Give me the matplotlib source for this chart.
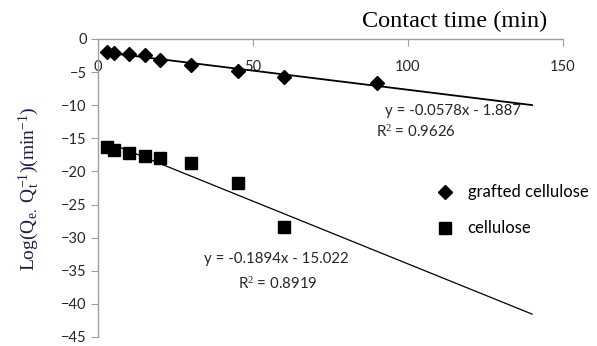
import numpy as np
import matplotlib
matplotlib.use('Agg')
import matplotlib.pyplot as plt

# Data
time_grafted = [3, 5, 10, 15, 20, 30, 45, 60, 90]
log_grafted = [-2.0, -2.1, -2.2, -2.4, -3.1, -3.9, -4.9, -5.7, -6.6]

time_cell = [3, 5, 10, 15, 20, 30, 45, 60]
log_cell = [-16.3, -16.8, -17.2, -17.6, -17.9, -18.7, -21.8, -28.4]

# trend line coefficients (from the chart labels)
slope_grafted, icpt_grafted, r2_grafted = -0.0578, -1.887, 0.9626
slope_cell, icpt_cell, r2_cell = -0.1894, -15.022, 0.8919
trend_end = 140

xticks = [0, 50, 100, 150]
yticks = [0, -5, -10, -15, -20, -25, -30, -35, -40, -45]

plt.rcParams['mathtext.fontset'] = 'custom'
plt.rcParams['mathtext.rm'] = 'Liberation Serif'
plt.rcParams['mathtext.it'] = 'Liberation Serif:italic'

sans = 'Lato'
axis_col = '#a0a0a0'
text_col = '#262626'

fig = plt.figure(figsize=(5.97, 3.46), dpi=100)
ax = fig.add_axes([98 / 597, 1 - 337 / 346, 465 / 597, 298 / 346])

# Points
ax.plot(time_grafted, log_grafted, linestyle='none', marker='D', markersize=6.8,
        color='black', label='grafted cellulose', zorder=3)
ax.plot(time_cell, log_cell, linestyle='none', marker='s', markersize=9.3,
        color='black', label='cellulose', zorder=3)

# Trend lines
xg = np.array([min(time_grafted), trend_end])
ax.plot(xg, slope_grafted * xg + icpt_grafted, color='black', lw=1.3)
xc = np.array([min(time_cell), trend_end])
ax.plot(xc, slope_cell * xc + icpt_cell, color='black', lw=0.9)

# Axes
ax.set_xlim(0, 150)
ax.set_ylim(-45, 0)
ax.set_xticks(xticks)
ax.set_yticks(yticks)
ax.spines['top'].set_visible(False)
ax.spines['right'].set_visible(False)
ax.spines['bottom'].set_position(('data', 0))
for s in ['bottom', 'left']:
    ax.spines[s].set_color(axis_col)
    ax.spines[s].set_linewidth(1)
ax.tick_params(axis='x', direction='out', length=5, color=axis_col, pad=10,
               labelsize=10.5, labelcolor=text_col)
ax.tick_params(axis='y', direction='out', length=5, color=axis_col, pad=3,
               labelsize=10.5, labelcolor=text_col)
for lbl in ax.get_xticklabels() + ax.get_yticklabels():
    lbl.set_fontfamily(sans)

# Equations
ax.text(114.5, -10.9, 'y = %.4fx - %.3f' % (slope_grafted, -icpt_grafted),
        ha='center', va='center', fontsize=10.8, family=sans, color=text_col)
ax.text(102.5, -14.1, 'R$^{2}$ = %.4f' % r2_grafted,
        ha='center', va='center', fontsize=10.8, family=sans, color=text_col)
ax.text(57.5, -33.2, 'y = %.4fx - %.3f' % (slope_cell, -icpt_cell),
        ha='center', va='center', fontsize=10.8, family=sans, color=text_col)
ax.text(58, -37.0, 'R$^{2}$ = %.4f' % r2_cell,
        ha='center', va='center', fontsize=10.8, family=sans, color=text_col)

# Legend
ax.legend(loc='upper left', bbox_to_anchor=(426 / 597, 1 - 176 / 346),
          bbox_transform=fig.transFigure, frameon=False, numpoints=1,
          handlelength=1.3, handletextpad=0.7, labelspacing=1.2,
          borderpad=0, prop={'family': sans, 'size': 12})

# Titles
fig.text(455 / 597, 1 - 21 / 346, 'Contact time (min)', ha='center', va='center',
         fontsize=17.5, family='Liberation Serif', color='black')
fig.text(29 / 597, 1 - 189 / 346,
         r'Log(Q$_{\mathrm{e.}}$ Q$_{\mathrm{t}}^{\mathrm{-1}}$)(min$^{\mathrm{-1}}$)',
         rotation=90, ha='center', va='center', fontsize=14,
         family='Liberation Serif', color='#1c1c50')

fig.savefig('out.png', dpi=100)
